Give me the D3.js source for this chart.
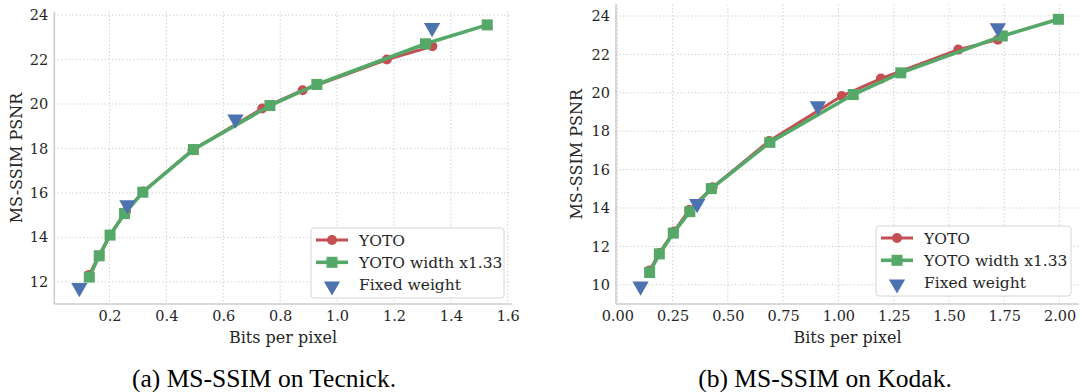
<!DOCTYPE html>
<html>
<head>
<meta charset="utf-8">
<script src="https://cdn.jsdelivr.net/npm/d3@7"></script>
<style>
  body { margin: 0; background: #fff; }
  svg text { fill: #262626; }
</style>
</head>
<body>
<div id="chart"></div>
<script>
// Series names
const seriesNames = ["YOTO", "YOTO width x1.33", "Fixed weight"];

// Tecnick (left panel)
const tecYotoX = [0.128, 0.164, 0.202, 0.258, 0.318, 0.492, 0.737, 0.879, 1.175, 1.335];
const tecYotoY = [12.31, 13.18, 14.11, 15.16, 16.06, 17.92, 19.80, 20.62, 22.00, 22.60];
const tecWideX = [0.129, 0.164, 0.202, 0.253, 0.317, 0.495, 0.764, 0.929, 1.311, 1.528];
const tecWideY = [12.21, 13.17, 14.10, 15.07, 16.03, 17.95, 19.93, 20.88, 22.71, 23.56];
const tecFixedX = [0.094, 0.263, 0.643, 1.334];
const tecFixedY = [11.80, 15.52, 19.38, 23.50];
const tecXTicks = [0.2, 0.4, 0.6, 0.8, 1.0, 1.2, 1.4, 1.6];
const tecYTicks = [12, 14, 16, 18, 20, 22, 24];

// Kodak (right panel)
const kodYotoX = [0.146, 0.190, 0.256, 0.325, 0.431, 0.687, 1.015, 1.192, 1.542, 1.721];
const kodYotoY = [10.75, 11.65, 12.77, 13.90, 15.08, 17.49, 19.83, 20.74, 22.25, 22.77];
const kodWideX = [0.146, 0.190, 0.253, 0.328, 0.425, 0.690, 1.067, 1.282, 1.741, 1.995];
const kodWideY = [10.64, 11.61, 12.69, 13.81, 15.01, 17.42, 19.91, 21.04, 22.96, 23.83];
const kodFixedX = [0.105, 0.361, 0.907, 1.721];
const kodFixedY = [10.00, 14.30, 19.39, 23.46];
const kodXTicks = [0.00, 0.25, 0.50, 0.75, 1.00, 1.25, 1.50, 1.75, 2.00];
const kodYTicks = [10, 12, 14, 16, 18, 20, 22, 24];

const captions = ["(a) MS-SSIM on Tecnick.", "(b) MS-SSIM on Kodak."];

const red = "#C44E52", green = "#55A868", blue = "#4C72B0";
const serif = "'DejaVu Serif', serif";

const svg = d3.select("#chart").append("svg")
    .attr("width", 1081)
    .attr("height", 392);

function zip(xs, ys) {
    return xs.map((x, i) => ({ x: x, y: ys[i] }));
}

function drawPanel(p) {
    const x = d3.scaleLinear().domain(p.xDomain).range([p.left, p.right]);
    const y = d3.scaleLinear().domain(p.yDomain).range([p.bottom, p.top]);
    const g = svg.append("g");

    // grid
    g.append("g").selectAll("line").data(p.xTicks).join("line")
        .attr("x1", d => x(d)).attr("x2", d => x(d))
        .attr("y1", p.top).attr("y2", p.bottom)
        .attr("stroke", "#c8c8c8").attr("stroke-width", 1)
        .attr("stroke-dasharray", "1.2,2.4");
    g.append("g").selectAll("line").data(p.yTicks).join("line")
        .attr("x1", p.left).attr("x2", p.right)
        .attr("y1", d => y(d)).attr("y2", d => y(d))
        .attr("stroke", "#c8c8c8").attr("stroke-width", 1)
        .attr("stroke-dasharray", "1.2,2.4");

    // axes
    const xAxis = g.append("g")
        .attr("transform", `translate(0,${p.bottom})`)
        .call(d3.axisBottom(x).tickValues(p.xTicks).tickFormat(d3.format(p.xFmt)).tickSize(0).tickPadding(7));
    const yAxis = g.append("g")
        .attr("transform", `translate(${p.left},0)`)
        .call(d3.axisLeft(y).tickValues(p.yTicks).tickFormat(d3.format("d")).tickSize(0).tickPadding(6));
    [xAxis, yAxis].forEach(a => {
        a.attr("font-family", null);
        a.select(".domain").remove();
        a.selectAll("text")
            .style("font-family", serif)
            .style("font-size", "14.5px")
            .attr("fill", "#262626");
    });

    // spines
    g.append("line").attr("x1", p.left).attr("x2", p.left)
        .attr("y1", p.top).attr("y2", p.bottom)
        .attr("stroke", "#cccccc").attr("stroke-width", 1.6);
    g.append("line").attr("x1", p.left).attr("x2", p.right)
        .attr("y1", p.bottom).attr("y2", p.bottom)
        .attr("stroke", "#cccccc").attr("stroke-width", 1.6);

    // axis labels
    g.append("text")
        .attr("x", (p.left + p.right) / 2).attr("y", p.bottom + 39)
        .attr("text-anchor", "middle")
        .style("font-family", serif).style("font-size", "16px")
        .text("Bits per pixel");
    g.append("text")
        .attr("transform", `translate(${p.ylabelX},${(p.top + p.bottom) / 2}) rotate(-90)`)
        .attr("text-anchor", "middle")
        .style("font-family", serif).style("font-size", "16px")
        .text("MS-SSIM PSNR");

    const line = d3.line().x(d => x(d.x)).y(d => y(d.y));

    // YOTO
    const yoto = zip(p.yotoX, p.yotoY);
    g.append("path").datum(yoto).attr("d", line)
        .attr("fill", "none").attr("stroke", red).attr("stroke-width", 3);
    g.append("g").selectAll("circle").data(yoto).join("circle")
        .attr("cx", d => x(d.x)).attr("cy", d => y(d.y)).attr("r", 5)
        .attr("fill", red);

    // YOTO wide
    const wide = zip(p.wideX, p.wideY);
    g.append("path").datum(wide).attr("d", line)
        .attr("fill", "none").attr("stroke", green).attr("stroke-width", 3.6);
    g.append("g").selectAll("rect").data(wide).join("rect")
        .attr("x", d => x(d.x) - 5.5).attr("y", d => y(d.y) - 5.5)
        .attr("width", 11).attr("height", 11)
        .attr("fill", green);

    // Fixed weight
    const tri = d3.symbol().type(d3.symbolTriangle).size(115);
    g.append("g").selectAll("path").data(zip(p.fixedX, p.fixedY)).join("path")
        .attr("d", tri)
        .attr("transform", d => `translate(${x(d.x)},${y(d.y) + 1.5}) rotate(180)`)
        .attr("fill", blue);

    // legend
    const lg = g.append("g").attr("transform", `translate(${p.legX},${p.legY})`);
    lg.append("rect").attr("width", p.legW).attr("height", 70)
        .attr("rx", 3).attr("fill", "#fff").attr("fill-opacity", 0.85)
        .attr("stroke", "#d6d6d6").attr("stroke-width", 1);
    [0, 1, 2].forEach(i => {
        const cy = 12 + i * 22.3;
        if (i < 2) {
            lg.append("line").attr("x1", 5).attr("x2", 37)
                .attr("y1", cy).attr("y2", cy)
                .attr("stroke", i === 0 ? red : green).attr("stroke-width", i === 0 ? 3 : 3.6);
        }
        if (i === 0) {
            lg.append("circle").attr("cx", 21).attr("cy", cy).attr("r", 5).attr("fill", red);
        } else if (i === 1) {
            lg.append("rect").attr("x", 15.5).attr("y", cy - 5.5).attr("width", 11).attr("height", 11).attr("fill", green);
        } else {
            lg.append("path").attr("d", tri)
                .attr("transform", `translate(21,${cy + 1.5}) rotate(180)`).attr("fill", blue);
        }
        lg.append("text").attr("x", 48).attr("y", cy).attr("dy", "0.36em")
            .style("font-family", serif).style("font-size", "15.5px")
            .text(seriesNames[i]);
    });

    // caption
    svg.append("text")
        .attr("x", p.capX).attr("y", 387)
        .attr("text-anchor", "middle")
        .style("font-family", "'Liberation Serif', serif").style("font-size", "25.5px")
        .style("fill", "#000")
        .text(p.caption);
}

drawPanel({
    left: 54.3, right: 511.7, top: 12, bottom: 304,
    xDomain: [0.006, 1.614], yDomain: [11.0, 24.14],
    xTicks: tecXTicks, yTicks: tecYTicks, xFmt: ".1f",
    yotoX: tecYotoX, yotoY: tecYotoY,
    wideX: tecWideX, wideY: tecWideY,
    fixedX: tecFixedX, fixedY: tecFixedY,
    ylabelX: 22, legX: 311, legY: 228, legW: 193,
    capX: 264, caption: captions[0]
});

drawPanel({
    left: 616, right: 1079, top: 4.5, bottom: 304,
    xDomain: [-0.006, 2.088], yDomain: [9.0, 24.6],
    xTicks: kodXTicks, yTicks: kodYTicks, xFmt: ".2f",
    yotoX: kodYotoX, yotoY: kodYotoY,
    wideX: kodWideX, wideY: kodWideY,
    fixedX: kodFixedX, fixedY: kodFixedY,
    ylabelX: 582, legX: 876, legY: 226, legW: 195,
    capX: 825, caption: captions[1]
});
</script>
</body>
</html>
